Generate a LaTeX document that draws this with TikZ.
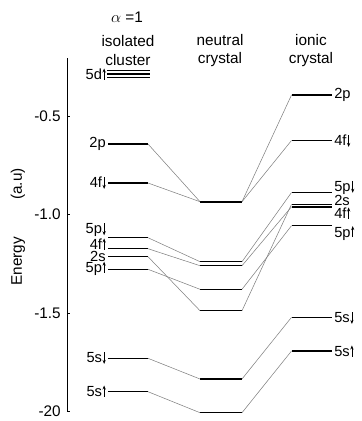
\documentclass[tikz,border=0pt]{standalone}
\usepackage{fontspec}
\setmainfont{Liberation Sans}
\usetikzlibrary{arrows.meta}
\newcommand\spu{\hspace{0.4pt}\tikz[baseline=0pt]\draw[line width=0.55pt,-{Stealth[length=3pt,width=2.4pt]}] (0pt,0pt)--(0pt,8.3pt);}
\newcommand\spd{\hspace{0.4pt}\tikz[baseline=0pt]\draw[line width=0.55pt,-{Stealth[length=3pt,width=2.4pt]}] (0pt,7.9pt)--(0pt,-1pt);}
\tikzset{
  lvl/.style={line width=1.1pt,black},
  lvlthick/.style={line width=1.7pt,black},
  conn/.style={line width=0.4pt,black!50},
  lab/.style={font=\fontsize{11}{11}\selectfont,inner sep=0pt},
  hdr/.style={font=\fontsize{11.5}{14}\selectfont,align=center,inner sep=0pt},
  axlab/.style={font=\fontsize{11.5}{12}\selectfont,inner sep=0pt,anchor=east},
}
\begin{document}
\begin{tikzpicture}[x=0.75pt,y=-0.75pt]
\useasboundingbox (0,0) rectangle (361,421);
% headers
\node[hdr] (alpha) at (127,17) {$\alpha$ =1};
\node[hdr] (hiso) at (128,50.5) {isolated\\cluster};
\node[hdr] (hneu) at (220,50.5) {neutral\\crystal};
\node[hdr] (hion) at (311,50.5) {ionic\\crystal};
% axis
\coordinate (axT) at (67,58);
\coordinate (axB) at (67,412);
\draw[line width=0.6pt] (axT) -- (axB);
\foreach \yy/\tt in {116/-0.5,214/-1.0,313/-1.5,411/-20}{
  \coordinate (tk\yy) at (67,\yy);
  \draw[line width=0.6pt] (tk\yy) -- ++(3,0);
  \node[axlab] (tl\yy) at (61,\yy) {\tt};
}
\node[font=\fontsize{11.5}{12}\selectfont,rotate=90,inner sep=0pt] (ylab) at (18,227) {Energy\hspace{28pt}(a.u)};
% isolated cluster levels
\foreach \n/\yy in {c5da/70.7,c5db/74,c5dc/77.3}{
  \coordinate (\n L) at (107,\yy); \coordinate (\n R) at (150,\yy);
  \draw[line width=0.9pt] (\n L) -- (\n R);
}
\foreach \n/\yy in {c2p/144,c4fd/183,c5pd/237.7,c4fu/248.7,c2s/256.7,c5pu/269.3,c5sd/358.3,c5su/391.7}{
  \coordinate (\n L) at (108,\yy); \coordinate (\n R) at (148,\yy);
  \draw[lvl] (\n L) -- (\n R);
}
% neutral crystal levels
\foreach \n/\yy in {n5pd/261.7,n4fu/265.7,n5pu/289.3,n2s/310.7,n5sd/379,n5su/412.7}{
  \coordinate (\n L) at (200,\yy); \coordinate (\n R) at (242,\yy);
  \draw[lvl] (\n L) -- (\n R);
}
\coordinate (n1L) at (200,201.7); \coordinate (n1R) at (242,201.7);
\draw[lvlthick] (n1L) -- (n1R);
% ionic crystal levels
\foreach \n/\yy in {i2p/95,i4fd/140.5,i5pd/192.5,i2s/204.3,i4fu/206.8,i5pu/225.7,i5sd/317.3,i5su/351}{
  \coordinate (\n L) at (291.5,\yy); \coordinate (\n R) at (332,\yy);
  \draw[lvl] (\n L) -- (\n R);
}
% connectors
\draw[conn] (c2pR) -- (n1L) (n1R) -- (i2pL);
\draw[conn] (c4fdR) -- (n1L) (n1R) -- (i4fdL);
\draw[conn] (c5pdR) -- (n5pdL) (n5pdR) -- (i5pdL);
\draw[conn] (c4fuR) -- (n4fuL) (n4fuR) -- (i4fuL);
\draw[conn] (c2sR) -- (n2sL) (n2sR) -- (i2sL);
\draw[conn] (c5puR) -- (n5puL) (n5puR) -- (i5puL);
\draw[conn] (c5sdR) -- (n5sdL) (n5sdR) -- (i5sdL);
\draw[conn] (c5suR) -- (n5suL) (n5suR) -- (i5suL);
% isolated labels
\node[lab,anchor=east] (l5d) at (106,74) {5d\spu};
\node[lab,anchor=east] (l2p) at (106,144) {2p};
\node[lab,anchor=east] (l4fd) at (106,183) {4f\spd};
\node[lab,anchor=east] (l5pd) at (106,230) {5p\spd};
\node[lab,anchor=east] (l4fu) at (106,244) {4f\spu};
\node[lab,anchor=east] (l2s) at (106,256) {2s};
\node[lab,anchor=east] (l5pu) at (106,268.5) {5p\spu};
\node[lab,anchor=east] (l5sd) at (106,358) {5s\spd};
\node[lab,anchor=east] (l5su) at (106,391) {5s\spu};
% ionic labels
\node[lab,anchor=west] (r2p) at (334,95) {2p};
\node[lab,anchor=west] (r4fd) at (334,141) {4f\spd};
\node[lab,anchor=west] (r5pd) at (334,187.5) {5p\spd};
\node[lab,anchor=west] (r2s) at (334,200.5) {2s};
\node[lab,anchor=west] (r4fu) at (334,213) {4f\spu};
\node[lab,anchor=west] (r5pu) at (334,233) {5p\spu};
\node[lab,anchor=west] (r5sd) at (334,318) {5s\spd};
\node[lab,anchor=west] (r5su) at (334,351) {5s\spu};
\end{tikzpicture}
\end{document}
